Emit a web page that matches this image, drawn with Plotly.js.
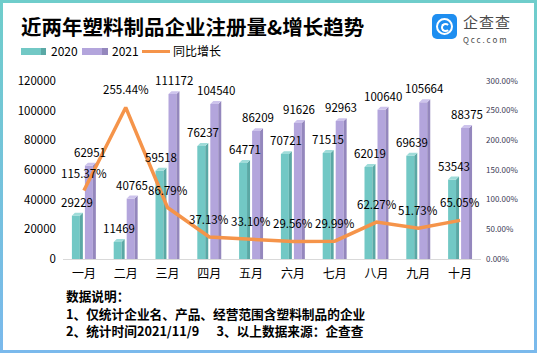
<!DOCTYPE html>
<html>
<head>
<meta charset="utf-8">
<script src="https://cdn.plot.ly/plotly-3.0.1.min.js"></script>
<style>
  html, body { margin:0; padding:0; background:#fff; }
  body { width:537px; height:353px; position:relative; overflow:hidden; font-family:"Noto Sans CJK SC", "Noto Sans", sans-serif; }
  #chart { position:absolute; left:0; top:0; width:537px; height:353px; }
  #frame { position:absolute; left:0; top:0; width:537px; height:353px; box-sizing:border-box;
           border:3px solid; border-image:linear-gradient(to bottom, #6fcdcb, #7ab9ec) 1; pointer-events:none; }
  .txt { position:absolute; white-space:nowrap; color:#000; }
  #title { left:21px; top:15px; font-size:20.5px; line-height:22px; font-weight:700; }
  .sw { position:absolute; height:7px; }
  #notes { left:66px; top:287px; font-size:12.7px; line-height:17.5px; font-weight:700; }
  #logo { position:absolute; left:432px; top:14px; width:25px; height:25px; border-radius:5px; background:#1e8ef0; }
  #ring { position:absolute; left:4px; top:4px; width:13px; height:13px; border:2.5px solid #fff; border-radius:50%; }
  #ringc { position:absolute; left:8.5px; top:8.5px; width:5px; height:5px; border:2px solid #fff; border-right-color:transparent; border-radius:50%; }
</style>
</head>
<body>
<div id="chart"></div>
<div id="frame"></div>
<div class="txt" id="title">近两年塑料制品企业注册量&amp;增长趋势</div>

<div class="sw" style="left:21px;top:48px;width:20px;background:#72c8c5"></div>
<div class="sw" style="left:41px;top:48px;width:5px;background:#5aa8a5"></div>
<div class="txt" style="left:51px;top:43px;font-size:12px;line-height:16px">2020</div>
<div class="sw" style="left:82px;top:48px;width:20px;background:#b3a5dc"></div>
<div class="sw" style="left:102px;top:48px;width:6px;background:#9487bd"></div>
<div class="txt" style="left:112px;top:43px;font-size:12px;line-height:16px">2021</div>
<div class="sw" style="left:142px;top:50px;width:28px;height:3px;background:#f5944a"></div>
<div class="txt" style="left:173px;top:43px;font-size:12px;line-height:16px">同比增长</div>

<div id="logo"><div id="ring"></div><div id="ringc"></div></div>
<div class="txt" style="left:463px;top:13px;font-size:15px;line-height:17px;color:#4a4a4a;letter-spacing:1px">企查查</div>
<div class="txt" style="left:463px;top:34.5px;font-size:8px;line-height:9px;letter-spacing:1.9px;color:#4a4a4a">Qcc.com</div>

<div class="txt" id="notes">数据说明：<br>1、仅统计企业名、产品、经营范围含塑料制品的企业<br>2、统计时间2021/11/9&nbsp;&nbsp;&nbsp;&nbsp;&nbsp;&nbsp;3、以上数据来源：企查查</div>

<script>
// ---- data ----
const months = ["一月","二月","三月","四月","五月","六月","七月","八月","九月","十月"];
const reg2020 = [29229, 11469, 59518, 76237, 64771, 70721, 71515, 62019, 69639, 53543];
const reg2021 = [62951, 40765, 111172, 104540, 86209, 91626, 92963, 100640, 105664, 88375];
const growth = [115.37, 255.44, 86.79, 37.13, 33.10, 29.56, 29.99, 62.27, 51.73, 65.05];

// ---- styling / geometry ----
const idx = months.map((_, i) => i);
const W = 0.19, DX = 0.072, DY = 2000;
const OFF20 = -0.287, OFF21 = 0.024;
const C20 = {front:"#72c8c5", side:"#5aa8a5", top:"#9fdcd9"};
const C21 = {front:"#b3a5dc", side:"#9487bd", top:"#cdc3ec"};

function faces(vals, off, kind) {
  const xs = [], ys = [];
  vals.forEach((v, i) => {
    const x0 = i + off;
    if (kind === "side") {
      xs.push(x0 + W, x0 + W, x0 + W + DX, x0 + W + DX, x0 + W, null);
      ys.push(0, v, v + DY, 0, 0, null);
    } else {
      xs.push(x0, x0 + W, x0 + W + DX, x0 + DX, x0, null);
      ys.push(v, v, v + DY, v + DY, v, null);
    }
  });
  return {xs, ys};
}
function poly(vals, off, kind, color) {
  const f = faces(vals, off, kind);
  return {type:"scatter", mode:"lines", x:f.xs, y:f.ys, fill:"toself", fillcolor:color,
          line:{width:0, color:color}, hoverinfo:"skip", showlegend:false};
}

const traces = [
  {type:"bar", x:idx, y:reg2020, offset:OFF20, width:W, marker:{color:C20.front}, showlegend:false, name:"2020"},
  {type:"bar", x:idx, y:reg2021, offset:OFF21, width:W, marker:{color:C21.front}, showlegend:false, name:"2021"},
  poly(reg2020, OFF20, "side", C20.side),
  poly(reg2020, OFF20, "top", C20.top),
  poly(reg2021, OFF21, "side", C21.side),
  poly(reg2021, OFF21, "top", C21.top),
  {type:"scatter", mode:"lines", x:idx, y:growth, yaxis:"y2", name:"同比增长",
   line:{color:"#f5944a", width:3.5}, showlegend:false}
];

const labFont = {family:"Noto Sans CJK SC, Noto Sans, sans-serif", size:11.5, color:"#000"};
const annotations = [];
reg2020.forEach((v, i) => annotations.push({x:i + OFF20 + (W + DX) / 2, y:v, xref:"x", yref:"y", text:String(v),
  showarrow:false, yanchor:"middle", yshift:14, font:labFont}));
reg2021.forEach((v, i) => annotations.push({x:i + OFF21 + (W + DX) / 2, y:v, xref:"x", yref:"y", text:String(v),
  showarrow:false, yanchor:"middle", yshift:14, font:labFont}));
growth.forEach((g, i) => annotations.push({x:i, y:g, xref:"x", yref:"y2", text:g.toFixed(2) + "%",
  showarrow:false, yanchor:"middle", yshift:18, font:labFont}));

const layout = {
  width:537, height:353,
  margin:{l:63, r:56, t:81, b:94, pad:0},
  paper_bgcolor:"rgba(0,0,0,0)", plot_bgcolor:"rgba(0,0,0,0)",
  barmode:"overlay", showlegend:false,
  font:{family:"Noto Sans CJK SC, Noto Sans, sans-serif", color:"#000"},
  xaxis:{range:[-0.5, 9.5], tickvals:idx, ticktext:months, showgrid:false, zeroline:false,
         showline:true, linecolor:"#d9d9d9", linewidth:1, ticks:"", tickfont:{size:12, color:"#000"}, ticklabelstandoff:4, fixedrange:true},
  yaxis:{range:[0, 120000], dtick:20000, tickformat:"d", showgrid:false, zeroline:false, showline:false,
         ticks:"", tickfont:{size:11.5, color:"#000"}, ticklabelstandoff:6},
  yaxis2:{range:[0, 300], dtick:50, tickformat:".2f", ticksuffix:"%", overlaying:"y", side:"right",
          showgrid:false, zeroline:false, showline:false, ticks:"", tickfont:{size:8, color:"#3b3b55"}, ticklabelstandoff:4},
  annotations:annotations
};

Plotly.newPlot("chart", traces, layout, {staticPlot:true, displayModeBar:false});
</script>
</body>
</html>
